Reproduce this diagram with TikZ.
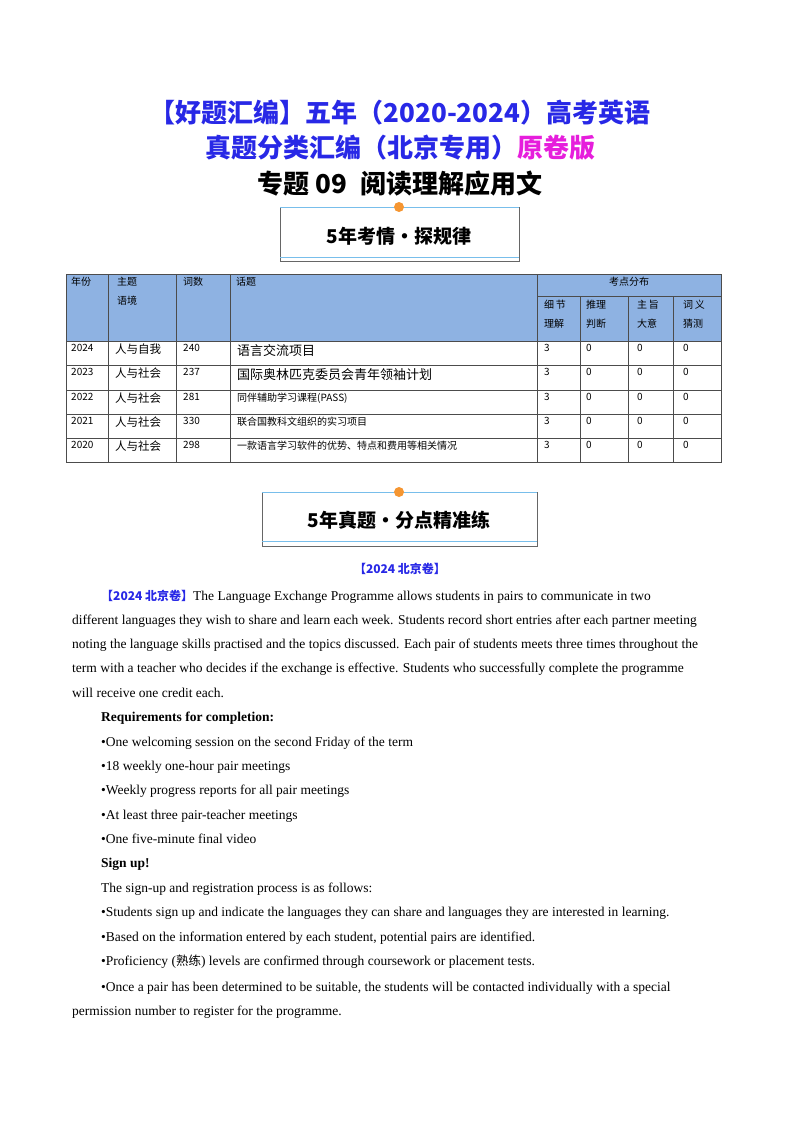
\documentclass[tikz,border=0pt]{standalone}
\usepackage{fontspec}
\setmainfont{Liberation Serif}
\newfontfamily\cjk{Noto Sans CJK SC}
\definecolor{titleblue}{RGB}{40,40,230}
\definecolor{titlepink}{RGB}{230,30,220}
\definecolor{headfill}{RGB}{142,178,226}
\definecolor{bannerline}{RGB}{120,190,235}
\definecolor{dotorange}{RGB}{245,150,50}
\begin{document}
\begin{tikzpicture}[x=1pt,y=-1pt]
  \tikzstyle{title}=[font=\cjk\bfseries\fontsize{26}{26}\selectfont]
  \tikzstyle{cell}=[anchor=north west,inner sep=0pt,font=\cjk\fontsize{10}{19}\selectfont,align=left]
  \tikzstyle{line}=[anchor=base west,inner sep=0pt,font=\fontsize{13.5}{13.5}\selectfont]
  \tikzstyle{banner}=[font=\cjk\bfseries\fontsize{19}{19}\selectfont]
  \useasboundingbox (0,0) rectangle (800,1132);

  % titles
  \node[title,text=titleblue] (t1) at (400,113) {【好题汇编】五年（2020-2024）高考英语};
  \node[title] (t2) at (400,148) {\textcolor{titleblue}{真题分类汇编（北京专用）}\textcolor{titlepink}{原卷版}};
  \node[title] (t3) at (400,184) {专题 09\enspace 阅读理解应用文};

  % banner one
  \draw[black!60] (280,207) rectangle (519,261);
  \draw[bannerline,thick] (280,207) -- (519,207) (280,257) -- (519,257);
  \fill[dotorange] (399,207) circle (5);
  \node[banner] (b1) at (399,236) {5年考情·探规律};

  % table
  \fill[headfill] (66,274) rectangle (721,341);
  \draw[black!70] (66,274) rectangle (721,462);
  \foreach \y in {341,365,390,414,438} \draw[black!70] (66,\y) -- (721,\y);
  \draw[black!70] (537,296) -- (721,296);
  \foreach \x in {108,176,230,537} \draw[black!70] (\x,274) -- (\x,462);
  \foreach \x in {580,628,673} \draw[black!70] (\x,296) -- (\x,462);
  \node[cell] (h1) at (71,277) {年份};
  \node[cell] (h2) at (117,277) {主题\\语境};
  \node[cell] (h3) at (183,277) {词数};
  \node[cell] (h4) at (236,277) {话题};
  \node[cell,anchor=north] (h5) at (629,277) {考点分布};
  \node[cell] (h6) at (544,300) {细\,节\\理解};
  \node[cell] (h7) at (586,300) {推理\\判断};
  \node[cell] (h8) at (637,300) {主\,旨\\大意};
  \node[cell] (h9) at (683,300) {词\,义\\猜测};
  \foreach \yr/\thm/\nw/\tp/\yy [count=\i] in {
      2024/人与自我/240/{\fontsize{13}{13}\selectfont 语言交流项目}/344,
      2023/人与社会/237/{\fontsize{13}{13}\selectfont 国际奥林匹克委员会青年领袖计划}/368,
      2022/人与社会/281/同伴辅助学习课程(PASS)/393,
      2021/人与社会/330/联合国教科文组织的实习项目/417,
      2020/人与社会/298/一款语言学习软件的优势、特点和费用等相关情况/441} {
    \node[cell] (y\i) at (71,\yy) {\yr};
    \node[cell,font=\cjk\fontsize{11.5}{12}\selectfont] (s\i) at (115,\yy) {\thm};
    \node[cell] (w\i) at (183,\yy) {\nw};
    \node[cell] (p\i) at (237,\yy) {\tp};
    \node[cell] (a\i) at (544,\yy) {3};
    \node[cell] (c\i) at (586,\yy) {0};
    \node[cell] (d\i) at (637,\yy) {0};
    \node[cell] (e\i) at (683,\yy) {0};
  }

  % banner two
  \draw[black!60] (262,492) rectangle (537,546);
  \draw[bannerline,thick] (262,492) -- (537,492) (262,541) -- (537,541);
  \fill[dotorange] (399,492) circle (5);
  \node[banner] (b2) at (399,520) {5年真题·分点精准练};

  % passage
  \node[font=\cjk\bfseries\fontsize{12}{12}\selectfont,text=titleblue] (src) at (400,569) {【2024 北京卷】};
  \node[line] (l1) at (101,600) {\textcolor{titleblue}{\cjk\bfseries\fontsize{12}{12}\selectfont 【2024 北京卷】}The Language Exchange Programme allows students in pairs to communicate in two};
  \node[line] (l2) at (72,624) {different languages they wish to share and learn each week. Students record short entries after each partner meeting};
  \node[line] (l3) at (72,648) {noting the language skills practised and the topics discussed. Each pair of students meets three times throughout the};
  \node[line] (l4) at (72,672) {term with a teacher who decides if the exchange is effective. Students who successfully complete the programme};
  \node[line] (l5) at (72,697) {will receive one credit each.};
  \node[line,font=\bfseries\fontsize{13.5}{13.5}\selectfont] (l6) at (101,721) {Requirements for completion:};
  \node[line] (l7) at (101,746) {•One welcoming session on the second Friday of the term};
  \node[line] (l8) at (101,770) {•18 weekly one-hour pair meetings};
  \node[line] (l9) at (101,794) {•Weekly progress reports for all pair meetings};
  \node[line] (l10) at (101,819) {•At least three pair-teacher meetings};
  \node[line] (l11) at (101,843) {•One five-minute final video};
  \node[line,font=\bfseries\fontsize{13.5}{13.5}\selectfont] (l12) at (101,867) {Sign up!};
  \node[line] (l13) at (101,892) {The sign-up and registration process is as follows:};
  \node[line] (l14) at (101,916) {•Students sign up and indicate the languages they can share and languages they are interested in learning.};
  \node[line] (l15) at (101,941) {•Based on the information entered by each student, potential pairs are identified.};
  \node[line] (l16) at (101,965) {•Proficiency ({\cjk\fontsize{12.5}{12.5}\selectfont 熟练}) levels are confirmed through coursework or placement tests.};
  \node[line] (l17) at (101,991) {•Once a pair has been determined to be suitable, the students will be contacted individually with a special};
  \node[line] (l18) at (72,1015) {permission number to register for the programme.};
\end{tikzpicture}
\end{document}
